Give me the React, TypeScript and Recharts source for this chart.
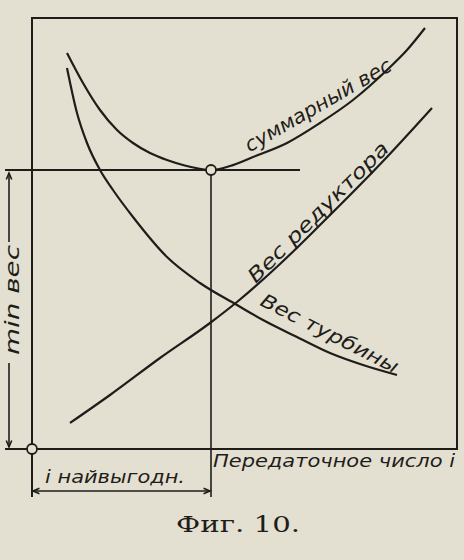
import { ComposedChart, Line, XAxis, YAxis, ReferenceLine, ReferenceDot, ReferenceArea } from 'recharts';

// chart units: x = distance right of the frame corner, y = distance above the base line
const totalWeight = [
  { x: 35, y: 396 }, { x: 51, y: 366 }, { x: 68, y: 339 }, { x: 85, y: 319 },
  { x: 101, y: 306 }, { x: 118, y: 296 }, { x: 135, y: 289 }, { x: 151, y: 284 },
  { x: 179, y: 279 }, { x: 198, y: 283 }, { x: 221, y: 292 }, { x: 255, y: 306 },
  { x: 288, y: 326 }, { x: 321, y: 349 }, { x: 355, y: 379 }, { x: 375, y: 399 },
  { x: 393, y: 421 },
];
const turbineWeight = [
  { x: 35, y: 381 }, { x: 45, y: 336 }, { x: 55, y: 306 }, { x: 68, y: 279 },
  { x: 81, y: 259 }, { x: 101, y: 232 }, { x: 135, y: 192 }, { x: 168, y: 166 },
  { x: 205, y: 144 }, { x: 231, y: 129 }, { x: 265, y: 112 }, { x: 298, y: 96 },
  { x: 331, y: 84 }, { x: 365, y: 74 },
];
const gearWeight = [
  { x: 38, y: 26 }, { x: 78, y: 54 }, { x: 128, y: 91 }, { x: 178, y: 126 },
  { x: 205, y: 147 }, { x: 248, y: 185 }, { x: 288, y: 224 }, { x: 355, y: 292 },
  { x: 400, y: 341 },
];
const optimum = { x: 179, y: 279 };
const labels = {
  total: 'суммарный вес',
  gear: 'Вес редуктора',
  turbine: 'Вес турбины',
  xAxis: 'Передаточное число i',
  best: 'i найвыгодн.',
  yAxis: 'min вес',
  caption: 'Фиг. 10.',
};

const INK = '#1f1d1a';
const PAPER = '#e4e0d1';

function arrowHead(x: number, y: number, fromX: number, fromY: number) {
  const a = Math.atan2(y - fromY, x - fromX);
  const l = 7;
  const s = 0.4;
  return `M${x - l * Math.cos(a - s)},${y - l * Math.sin(a - s)} L${x},${y} L${x - l * Math.cos(a + s)},${y - l * Math.sin(a + s)}`;
}

function arrowLine(start: boolean, end: boolean) {
  return (p: any) => {
    const { x1, y1, x2, y2 } = p;
    return (
      <g>
        <line x1={x1} y1={y1} x2={x2} y2={y2} stroke={INK} strokeWidth={1.6} />
        {start && <path d={arrowHead(x1, y1, x2, y2)} stroke={INK} strokeWidth={1.6} fill="none" />}
        {end && <path d={arrowHead(x2, y2, x1, y1)} stroke={INK} strokeWidth={1.6} fill="none" />}
      </g>
    );
  };
}

function caption(text: string, angle: number, size: number, len: number, serif = false) {
  return (p: any) => (
    <text
      x={p.cx}
      y={p.cy}
      transform={`rotate(${angle} ${p.cx} ${p.cy})`}
      textAnchor="middle"
      dominantBaseline="central"
      textLength={len}
      lengthAdjust="spacingAndGlyphs"
      fontFamily={serif ? '"DejaVu Serif", serif' : '"DejaVu Sans", sans-serif'}
      fontStyle={serif ? 'normal' : 'italic'}
      fontSize={size}
      fill={INK}
    >
      {text}
    </text>
  );
}

export default function App() {
  const seg = { stroke: INK, strokeWidth: 2, ifOverflow: 'visible' as const };
  const curve = {
    dataKey: 'y',
    type: 'monotone' as const,
    stroke: INK,
    strokeWidth: 2.2,
    dot: false,
    activeDot: false,
    isAnimationActive: false,
  };
  return (
    <div style={{ position: 'absolute', left: 0, top: 0, width: 464, height: 560, background: PAPER }}>
      <ComposedChart width={464} height={560} margin={{ top: 0, right: 0, bottom: 0, left: 0 }}>
        <XAxis type="number" dataKey="x" domain={[-32, 432]} hide />
        <YAxis type="number" domain={[-111, 449]} hide />
        <ReferenceArea x1={0} x2={425} y1={0} y2={431} fill="none" stroke={INK} strokeWidth={2} fillOpacity={0} ifOverflow="visible" />
        <ReferenceLine segment={[{ x: -27, y: 0 }, { x: 0, y: 0 }]} {...seg} />
        <ReferenceLine segment={[{ x: 0, y: 0 }, { x: 0, y: -48 }]} {...seg} />
        <ReferenceLine segment={[{ x: -27, y: optimum.y }, { x: 268, y: optimum.y }]} {...seg} />
        <ReferenceLine segment={[{ x: optimum.x, y: optimum.y }, { x: optimum.x, y: -48 }]} {...seg} strokeWidth={1.6} />
        <ReferenceLine segment={[{ x: -23, y: 276 }, { x: -23, y: 207 }]} ifOverflow="visible" shape={arrowLine(true, false)} />
        <ReferenceLine segment={[{ x: -23, y: 86 }, { x: -23, y: 2 }]} ifOverflow="visible" shape={arrowLine(false, true)} />
        <ReferenceLine segment={[{ x: 1, y: -42 }, { x: 178, y: -42 }]} ifOverflow="visible" shape={arrowLine(true, true)} />
        <Line data={totalWeight} {...curve} />
        <Line data={turbineWeight} {...curve} />
        <Line data={gearWeight} {...curve} />
        <ReferenceDot x={optimum.x} y={optimum.y} r={5} fill={PAPER} stroke={INK} strokeWidth={1.8} ifOverflow="visible" />
        <ReferenceDot x={0} y={0} r={5} fill={PAPER} stroke={INK} strokeWidth={1.8} ifOverflow="visible" />
        <ReferenceDot x={286} y={344} r={0} ifOverflow="visible" shape={caption(labels.total, -30, 20, 166)} />
        <ReferenceDot x={286} y={237} r={0} ifOverflow="visible" shape={caption(labels.gear, -45, 20, 190)} />
        <ReferenceDot x={298} y={116} r={0} ifOverflow="visible" shape={caption(labels.turbine, 27, 19, 152)} />
        <ReferenceDot x={302} y={-11} r={0} ifOverflow="visible" shape={caption(labels.xAxis, 0, 18, 242)} />
        <ReferenceDot x={83} y={-27} r={0} ifOverflow="visible" shape={caption(labels.best, 0, 18, 140)} />
        <ReferenceDot x={-20} y={149} r={0} ifOverflow="visible" shape={caption(labels.yAxis, -90, 19, 110)} />
        <ReferenceDot x={206} y={-75} r={0} ifOverflow="visible" shape={caption(labels.caption, 0, 22, 124, true)} />
      </ComposedChart>
    </div>
  );
}
